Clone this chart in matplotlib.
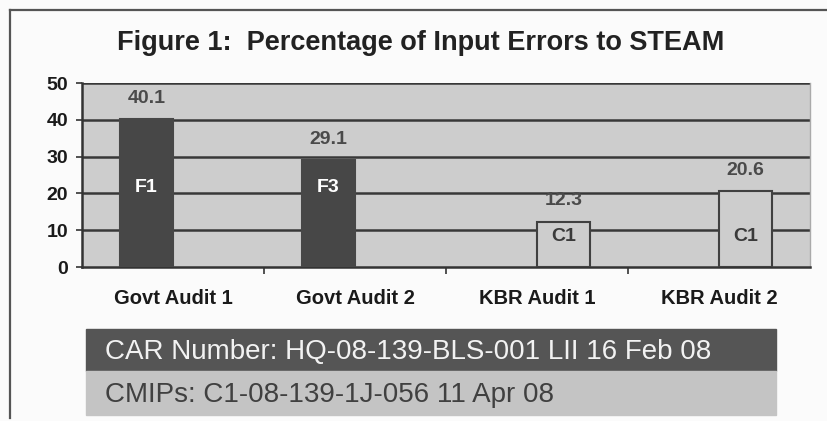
import matplotlib.pyplot as plt
from matplotlib.patches import Rectangle
from matplotlib.lines import Line2D
import numpy as np

plt.rcParams['font.family'] = ['Liberation Sans', 'DejaVu Sans']

# данные
categories = ['Govt Audit 1', 'Govt Audit 2', 'KBR Audit 1', 'KBR Audit 2']
values = [40.1, 29.1, 12.3, 20.6]
codes = ['F1', 'F3', 'C1', 'C1']
groups = ['Govt', 'Govt', 'KBR', 'KBR']
yticks = [0, 10, 20, 30, 40, 50]

title = 'Figure 1:  Percentage of Input Errors to STEAM'
car_text = 'CAR Number: HQ-08-139-BLS-001 LII 16 Feb 08'
cmip_text = 'CMIPs: C1-08-139-1J-056 11 Apr 08'

fig = plt.figure(figsize=(8.27, 4.21), dpi=100, facecolor='#fbfbfb')
ax = fig.add_axes([82 / 827, 154 / 421, 728 / 827, 184 / 421])
ax.set_facecolor('#cdcdcd')

# сетка
for t in yticks[1:]:
    ax.axhline(t, color='#383838', lw=1.8, zorder=1)

w = 0.29
offset = {'Govt': -0.145, 'KBR': 0.145}
style = {'Govt': dict(color='#474747', edgecolor='#474747'),
         'KBR': dict(color='#cdcdcd', edgecolor='#404040')}
code_color = {'Govt': 'white', 'KBR': '#3a3a3a'}
code_y = {'Govt': 21.5, 'KBR': 8.2}

x = np.arange(len(categories))
for i, (v, c, g) in enumerate(zip(values, codes, groups)):
    xi = x[i] + offset[g]
    ax.bar(xi, v, width=w, lw=1.5, zorder=3, **style[g])
    ax.annotate(f'{v}', (xi, v), xytext=(0, 15), textcoords='offset points',
                ha='center', va='center', fontsize=14, fontweight='bold',
                color='#4a4a4a', zorder=4)
    ax.text(xi, code_y[g], c, ha='center', va='center', fontsize=14,
            fontweight='bold', color=code_color[g], zorder=4)

ax.set_xlim(-0.5, 3.5)
ax.set_ylim(0, 50)
ax.set_yticks(yticks)
ax.set_xticks(x)
ax.set_xticklabels(categories, fontsize=14.5, fontweight='bold', color='#1a1a1a')
ax.set_xticks([0.5, 1.5, 2.5], minor=True)
ax.tick_params(axis='x', which='major', length=0, pad=16)
ax.tick_params(axis='x', which='minor', length=5, width=1.2, color='#333', direction='out')
ax.tick_params(axis='y', length=4, width=1.2, color='#333', pad=6,
               labelsize=14, labelcolor='#1a1a1a')
for lab in ax.get_yticklabels():
    lab.set_fontweight('bold')

for side in ['left', 'bottom']:
    ax.spines[side].set_color('#333333')
    ax.spines[side].set_linewidth(1.8)
ax.spines['top'].set_visible(False)
ax.spines['right'].set_color('#aaaaaa')
ax.spines['right'].set_linewidth(1.0)

fig.text(421 / 827, 1 - 43 / 421, title, ha='center', va='center',
         fontsize=19.5, fontweight='bold', color='#222222')

# рамка
fig.add_artist(Line2D([10 / 827, 1], [1 - 10 / 421, 1 - 10 / 421], color='#555555', lw=1.6))
fig.add_artist(Line2D([10 / 827, 10 / 827], [1 - 10 / 421, 1 - 418 / 421], color='#555555', lw=1.6))

# подписи внизу
fig.add_artist(Rectangle((86 / 827, 50 / 421), 690 / 827, 42 / 421,
                         transform=fig.transFigure, color='#555555'))
fig.add_artist(Rectangle((86 / 827, 6 / 421), 690 / 827, 44 / 421,
                         transform=fig.transFigure, color='#c4c4c4'))
fig.text(105 / 827, 1 - 352 / 421, car_text, ha='left', va='center',
         fontsize=20, color='#f2f2f2')
fig.text(105 / 827, 1 - 395 / 421, cmip_text, ha='left', va='center',
         fontsize=20, color='#404040')

fig.savefig('out.png', dpi=100, facecolor=fig.get_facecolor())
